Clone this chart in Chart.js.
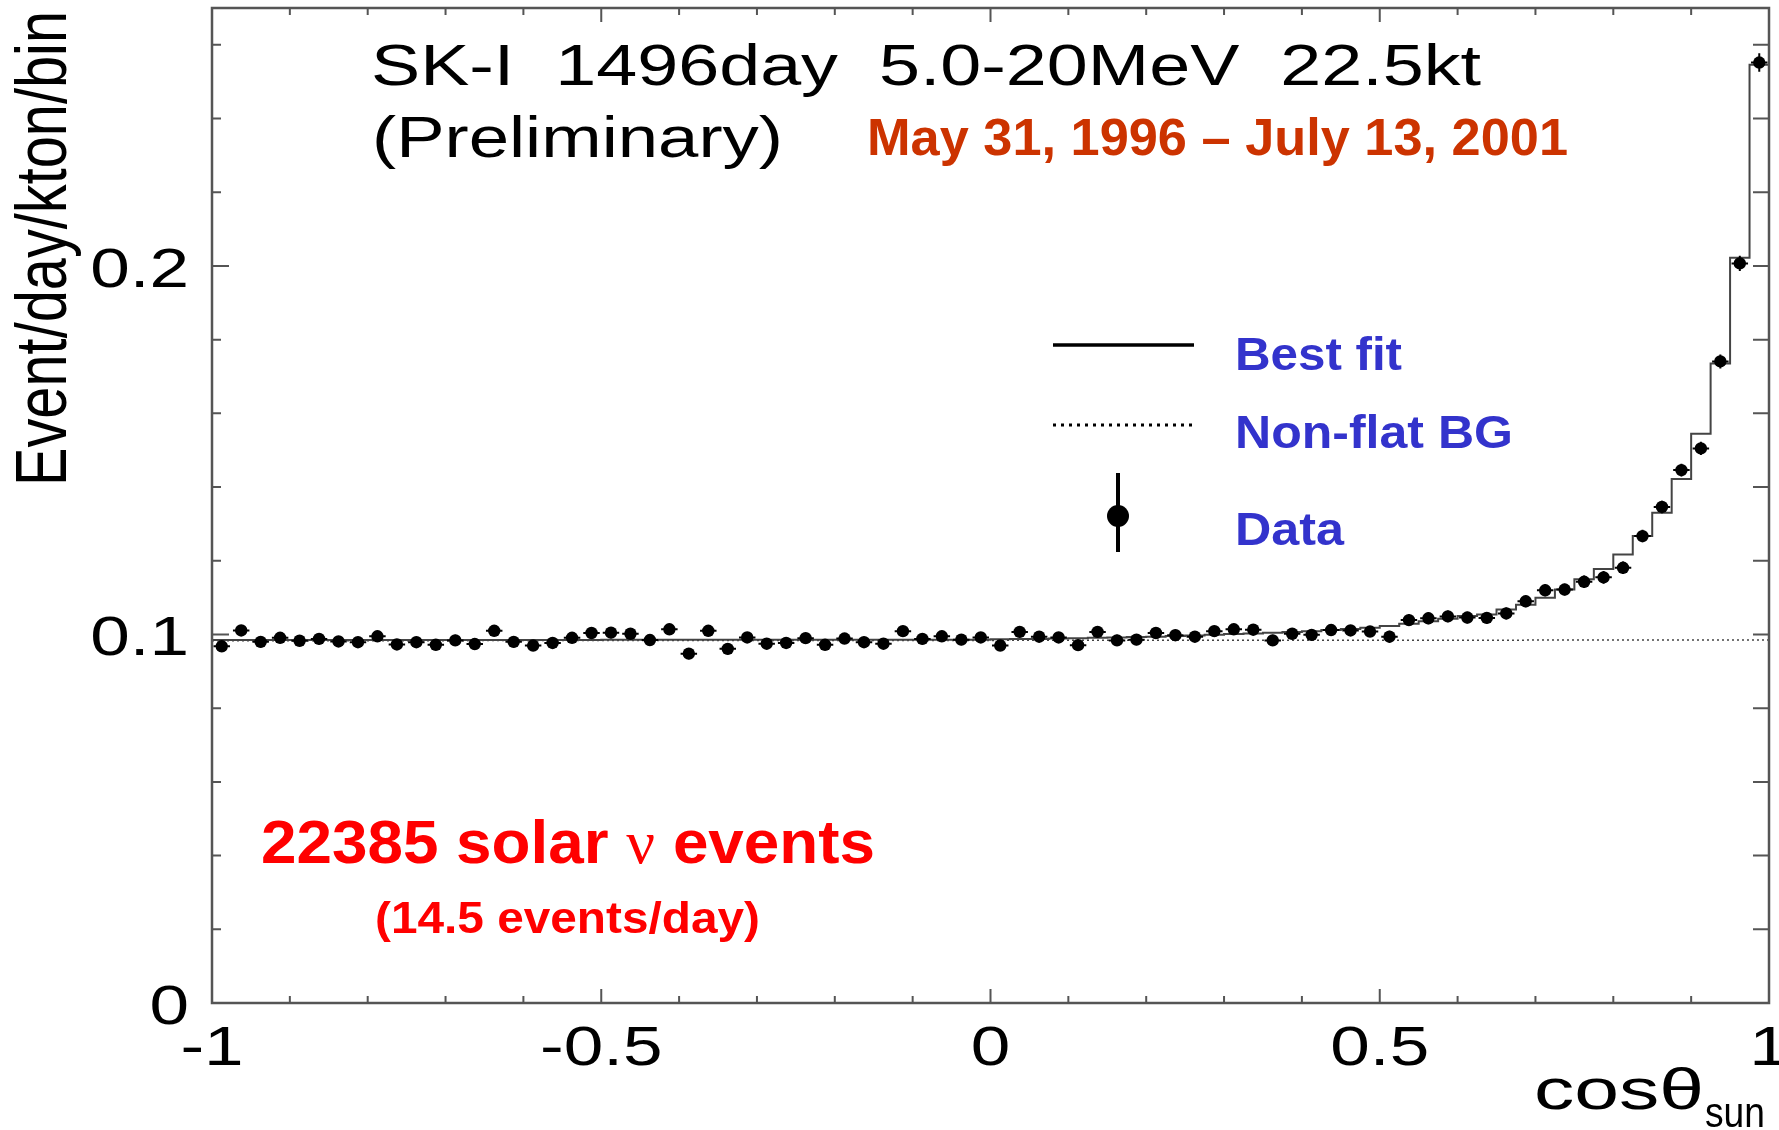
<!DOCTYPE html>
<html>
<head>
<meta charset="utf-8">
<script src="https://cdn.jsdelivr.net/npm/chart.js@4.4.1/dist/chart.umd.min.js"></script>
<style>
html, body { margin: 0; padding: 0; background: #fff; }
#wrap { width: 1779px; height: 1130px; position: relative; }
</style>
</head>
<body>
<div id="wrap"><canvas id="sunChart"></canvas></div>
<script>
// cos(theta_sun) bins: 80 bins of width 0.025 from -1 to 1
const binWidth = 0.025;
const cosBins = Array.from({ length: 80 }, (_, k) => -1 + binWidth * (k + 0.5));

// measured rate, event/day/kton/bin
const dataVals = [
    0.0968, 0.1011, 0.0980, 0.0991, 0.0983, 0.0988, 0.0981, 0.0979, 0.0995, 0.0973,
    0.0979, 0.0972, 0.0984, 0.0974, 0.1010, 0.0980, 0.0970, 0.0977, 0.0991, 0.1004,
    0.1005, 0.1002, 0.0985, 0.1014, 0.0948, 0.1010, 0.0961, 0.0992, 0.0975, 0.0977,
    0.0990, 0.0972, 0.0989, 0.0979, 0.0975, 0.1009, 0.0988, 0.0995, 0.0986, 0.0992,
    0.0970, 0.1007, 0.0994, 0.0992, 0.0971, 0.1007, 0.0984, 0.0986, 0.1004, 0.0998,
    0.0994, 0.1009, 0.1014, 0.1013, 0.0984, 0.1002, 0.0999, 0.1012, 0.1011, 0.1008,
    0.0994, 0.1039, 0.1044, 0.1049, 0.1046, 0.1045, 0.1057, 0.1090, 0.1120, 0.1122,
    0.1143, 0.1155, 0.1181, 0.1267, 0.1346, 0.1446, 0.1505, 0.1741, 0.2007, 0.2552
];

// statistical errors
const dataErrs = [
    0.0015, 0.0015, 0.0015, 0.0015, 0.0015, 0.0015, 0.0015, 0.0015, 0.0015, 0.0015,
    0.0015, 0.0015, 0.0015, 0.0015, 0.0015, 0.0015, 0.0015, 0.0015, 0.0015, 0.0015,
    0.0015, 0.0015, 0.0015, 0.0015, 0.0015, 0.0015, 0.0015, 0.0015, 0.0015, 0.0015,
    0.0015, 0.0015, 0.0015, 0.0015, 0.0015, 0.0015, 0.0015, 0.0015, 0.0015, 0.0015,
    0.0015, 0.0015, 0.0015, 0.0015, 0.0015, 0.0015, 0.0015, 0.0015, 0.0015, 0.0015,
    0.0015, 0.0015, 0.0015, 0.0015, 0.0015, 0.0015, 0.0015, 0.0015, 0.0015, 0.0015,
    0.0016, 0.0016, 0.0016, 0.0016, 0.0016, 0.0016, 0.0016, 0.0016, 0.0016, 0.0016,
    0.0017, 0.0017, 0.0017, 0.0017, 0.0017, 0.0017, 0.0018, 0.0019, 0.0021, 0.0025
];

// best fit (signal + background)
const fitVals = [
    0.0985, 0.0985, 0.0985, 0.0985, 0.0985, 0.0985, 0.0985, 0.0985, 0.0985, 0.0985,
    0.0985, 0.0985, 0.0985, 0.0985, 0.0985, 0.0985, 0.0985, 0.0985, 0.0985, 0.0985,
    0.0986, 0.0986, 0.0986, 0.0986, 0.0986, 0.0986, 0.0986, 0.0986, 0.0986, 0.0986,
    0.0986, 0.0986, 0.0986, 0.0986, 0.0986, 0.0986, 0.0986, 0.0986, 0.0986, 0.0986,
    0.0987, 0.0988, 0.0988, 0.0989, 0.0990, 0.0991, 0.0992, 0.0993, 0.0994, 0.0996,
    0.0997, 0.0999, 0.1001, 0.1003, 0.1005, 0.1007, 0.1009, 0.1012, 0.1015, 0.1018,
    0.1023, 0.1029, 0.1036, 0.1043, 0.1050, 0.1054, 0.1068, 0.1081, 0.1100, 0.1122,
    0.1150, 0.1178, 0.1217, 0.1267, 0.1330, 0.1422, 0.1545, 0.1735, 0.2022, 0.2546
];

// non-flat background
const bgCos = [-1, 0, 1];
const bgVals = [0.0983, 0.0984, 0.0985];

// axis ticks
const xTickVals = [-1, -0.5, 0, 0.5, 1];
const xTickLabels = ["-1", "-0.5", "0", "0.5", "1"];
const yTickVals = [0, 0.1, 0.2];
const yTickLabels = ["0", "0.1", "0.2"];

const SANS = '"Liberation Sans", Arial, Helvetica, sans-serif';
const SERIF = '"Liberation Serif", "Times New Roman", serif';
const STRETCH = 1.27; // the ROOT frame text is drawn wide

const dataPoints = cosBins.map((c, i) => ({ x: c, y: dataVals[i] }));
const fitPoints = [{ x: -1, y: fitVals[0] }]
    .concat(cosBins.map((c, i) => ({ x: c, y: fitVals[i] })))
    .concat([{ x: 1, y: fitVals[fitVals.length - 1] }]);
const bgPoints = bgCos.map((c, i) => ({ x: c, y: bgVals[i] }));

// draw a run of text pieces squeezed/stretched to a given width
function fitText(ctx, parts, x, y, width, color) {
    ctx.save();
    ctx.fillStyle = color;
    ctx.textBaseline = "alphabetic";
    ctx.textAlign = "left";
    let total = 0;
    parts.forEach((p) => {
        ctx.font = p.font;
        total += ctx.measureText(p.t).width;
    });
    ctx.translate(x, y);
    ctx.scale(width / total, 1);
    let cx = 0;
    parts.forEach((p) => {
        ctx.font = p.font;
        ctx.fillText(p.t, cx, 0);
        cx += ctx.measureText(p.t).width;
    });
    ctx.restore();
}

function wideText(ctx, str, x, y, font, align) {
    ctx.save();
    ctx.font = font;
    ctx.fillStyle = "#000";
    ctx.textBaseline = "alphabetic";
    ctx.textAlign = align;
    ctx.translate(x, y);
    ctx.scale(STRETCH, 1);
    ctx.fillText(str, 0, 0);
    ctx.restore();
}

const errorBars = {
    id: "errorBars",
    afterDatasetsDraw(chart) {
        const ctx = chart.ctx;
        const xs = chart.scales.x;
        const ys = chart.scales.y;
        ctx.save();
        ctx.strokeStyle = "#000";
        ctx.lineWidth = 2;
        dataVals.forEach((v, i) => {
            const c = cosBins[i];
            const px = xs.getPixelForValue(c);
            const py = ys.getPixelForValue(v);
            const xl = xs.getPixelForValue(c - binWidth / 2);
            const xr = xs.getPixelForValue(c + binWidth / 2);
            const yt = ys.getPixelForValue(v + dataErrs[i]);
            const yb = ys.getPixelForValue(v - dataErrs[i]);
            ctx.beginPath();
            ctx.moveTo(xl + 1.5, py);
            ctx.lineTo(xr - 1.5, py);
            ctx.moveTo(px, yt);
            ctx.lineTo(px, yb);
            ctx.stroke();
        });
        ctx.restore();
    },
};

const rootFrame = {
    id: "rootFrame",
    afterDraw(chart) {
        const ctx = chart.ctx;
        const a = chart.chartArea;
        const xs = chart.scales.x;
        const ys = chart.scales.y;

        // frame and inward ticks on all four sides
        ctx.save();
        ctx.strokeStyle = "#555";
        ctx.lineWidth = 2.5;
        ctx.strokeRect(a.left, a.top, a.right - a.left, a.bottom - a.top);
        ctx.lineWidth = 2;
        ctx.beginPath();
        for (let i = 0; i <= 20; i++) {
            const px = xs.getPixelForValue(-1 + i * 0.1);
            const len = i % 5 === 0 ? 14 : 7;
            ctx.moveTo(px, a.bottom);
            ctx.lineTo(px, a.bottom - len);
            ctx.moveTo(px, a.top);
            ctx.lineTo(px, a.top + len);
        }
        for (let i = 0; i <= 13; i++) {
            const py = ys.getPixelForValue(i * 0.02);
            const len = i % 5 === 0 ? 17 : 9;
            ctx.moveTo(a.left, py);
            ctx.lineTo(a.left + len, py);
            ctx.moveTo(a.right, py);
            ctx.lineTo(a.right - 16, py);
        }
        ctx.stroke();
        ctx.restore();

        // tick labels
        const tickFont = "56px " + SANS;
        xTickVals.forEach((v, i) => {
            wideText(ctx, xTickLabels[i], xs.getPixelForValue(v), a.bottom + 62, tickFont, "center");
        });
        yTickVals.forEach((v, i) => {
            wideText(ctx, yTickLabels[i], a.left - 23, ys.getPixelForValue(v) + 21, tickFont, "right");
        });

        // axis titles
        ctx.save();
        ctx.font = "57px " + SANS;
        ctx.fillStyle = "#000";
        ctx.textBaseline = "alphabetic";
        const yTitle = "Event/day/kton/bin";
        const tw = ctx.measureText(yTitle).width;
        ctx.translate(66, 486);
        ctx.rotate(-Math.PI / 2);
        ctx.scale(475 / tw, STRETCH);
        ctx.fillText(yTitle, 0, 0);
        ctx.restore();

        fitText(ctx, [{ t: "cos\u03b8", font: "58px " + SANS }], 1534, 1109, 170, "#000");
        fitText(ctx, [{ t: "sun", font: "42px " + SANS }], 1705, 1127, 60, "#000");

        // run information
        fitText(ctx, [{ t: "SK-I  1496day  5.0-20MeV  22.5kt", font: "57px " + SANS }], 371, 85, 1110, "#000");
        fitText(ctx, [{ t: "(Preliminary)", font: "57px " + SANS }], 372, 157, 411, "#000");
        fitText(ctx, [{ t: "May 31, 1996 \u2013 July 13, 2001", font: "bold 52px " + SANS }], 867, 155, 701, "#cc3300");

        // legend
        ctx.save();
        ctx.strokeStyle = "#000";
        ctx.lineWidth = 3.5;
        ctx.beginPath();
        ctx.moveTo(1053, 345);
        ctx.lineTo(1194, 345);
        ctx.stroke();
        ctx.lineWidth = 3;
        ctx.setLineDash([3, 5]);
        ctx.beginPath();
        ctx.moveTo(1053, 425);
        ctx.lineTo(1192, 425);
        ctx.stroke();
        ctx.setLineDash([]);
        ctx.lineWidth = 4;
        ctx.beginPath();
        ctx.moveTo(1118, 473);
        ctx.lineTo(1118, 552);
        ctx.stroke();
        ctx.fillStyle = "#000";
        ctx.beginPath();
        ctx.arc(1118, 516, 11, 0, Math.PI * 2);
        ctx.fill();
        ctx.restore();

        const blue = "#3333cc";
        fitText(ctx, [{ t: "Best fit", font: "bold 47px " + SANS }], 1235, 370, 167, blue);
        fitText(ctx, [{ t: "Non-flat BG", font: "bold 47px " + SANS }], 1235, 448, 278, blue);
        fitText(ctx, [{ t: "Data", font: "bold 47px " + SANS }], 1235, 545, 109, blue);

        // event count
        fitText(ctx, [
            { t: "22385 solar ", font: "bold 61px " + SANS },
            { t: "\u03bd", font: "61px " + SERIF },
            { t: " events", font: "bold 61px " + SANS },
        ], 261, 863, 614, "#ff0000");
        fitText(ctx, [{ t: "(14.5 events/day)", font: "bold 45px " + SANS }], 375, 933, 385, "#ff0000");
    },
};

new Chart(document.getElementById("sunChart"), {
    type: "scatter",
    data: {
        datasets: [
            {
                label: "Data",
                data: dataPoints,
                pointRadius: 6.2,
                pointBackgroundColor: "#000",
                pointBorderWidth: 0,
                order: 0,
            },
            {
                type: "line",
                label: "Best fit",
                data: fitPoints,
                stepped: "middle",
                borderColor: "#444",
                borderWidth: 2,
                pointRadius: 0,
                fill: false,
                order: 1,
            },
            {
                type: "line",
                label: "Non-flat BG",
                data: bgPoints,
                borderColor: "#444",
                borderWidth: 1.5,
                borderDash: [2, 3],
                pointRadius: 0,
                fill: false,
                order: 2,
            },
        ],
    },
    options: {
        responsive: true,
        maintainAspectRatio: false,
        animation: false,
        layout: { padding: { left: 0, top: 8, right: 10, bottom: 0 } },
        plugins: { legend: { display: false }, tooltip: { enabled: false } },
        scales: {
            x: {
                type: "linear",
                min: -1,
                max: 1,
                grid: { display: false },
                border: { display: false },
                ticks: { display: false },
                afterFit(s) {
                    s.height = 127;
                    s.paddingLeft = 0;
                    s.paddingRight = 0;
                },
            },
            y: {
                type: "linear",
                min: 0,
                max: 0.27,
                grid: { display: false },
                border: { display: false },
                ticks: { display: false },
                afterFit(s) {
                    s.width = 212;
                    s.paddingTop = 0;
                    s.paddingBottom = 0;
                },
            },
        },
    },
    plugins: [errorBars, rootFrame],
});
</script>
</body>
</html>
